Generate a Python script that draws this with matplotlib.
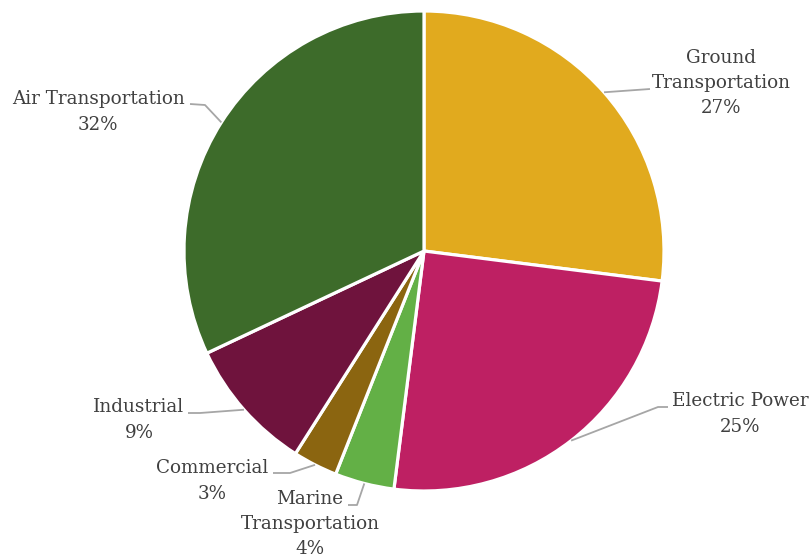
import numpy as np
import matplotlib
matplotlib.use("Agg")
import matplotlib.pyplot as plt

sectors = ["Ground\nTransportation", "Electric Power", "Marine\nTransportation",
           "Commercial", "Industrial", "Air Transportation"]
shares = [27, 25, 4, 3, 9, 32]
colors = ["#E1AA1E", "#BE2063", "#63B046", "#8B6510", "#6F133D", "#3D6B2A"]

# label centre and leader path (elbow, end) in pixel space, y measured from top
label_pos = [(721, 83), (740, 414), (310, 524), (212, 481), (139, 420), (98, 112)]
leader_pts = [
    [(650, 89)],
    [(658, 407), (668, 407)],
    [(357, 505), (348, 505)],
    [(290, 473), (273, 473)],
    [(200, 413), (188, 413)],
    [(205, 105), (190, 104)],
]

W, H = 809, 556
cx, cy, r = 424, 251, 240

fig = plt.figure(figsize=(W / 100, H / 100), dpi=100)
ax = fig.add_axes([0, 0, 1, 1])

wedges, _ = ax.pie(shares, colors=colors, startangle=90, counterclock=False,
                   center=(cx, H - cy), radius=r,
                   wedgeprops=dict(edgecolor="white", linewidth=2.3))

# pie() resets the limits, so fix the pixel-space frame afterwards
ax.set_xlim(0, W)
ax.set_ylim(0, H)
ax.set_aspect("equal")
ax.axis("off")

for w, name, val, (tx, ty), pts in zip(wedges, sectors, shares, label_pos, leader_pts):
    ang = np.deg2rad((w.theta1 + w.theta2) / 2)
    ex, ey = cx + r * np.cos(ang), H - cy + r * np.sin(ang)
    xs = [ex] + [p[0] for p in pts]
    ys = [ey] + [H - p[1] for p in pts]
    ax.plot(xs, ys, color="#A6A6A6", lw=1.3, solid_capstyle="butt")
    ax.text(tx, H - ty, f"{name}\n{val}%", ha="center", va="center",
            fontsize=13.2, family="DejaVu Serif", color="#404040",
            linespacing=1.52)

fig.savefig("out.png", dpi=100)
